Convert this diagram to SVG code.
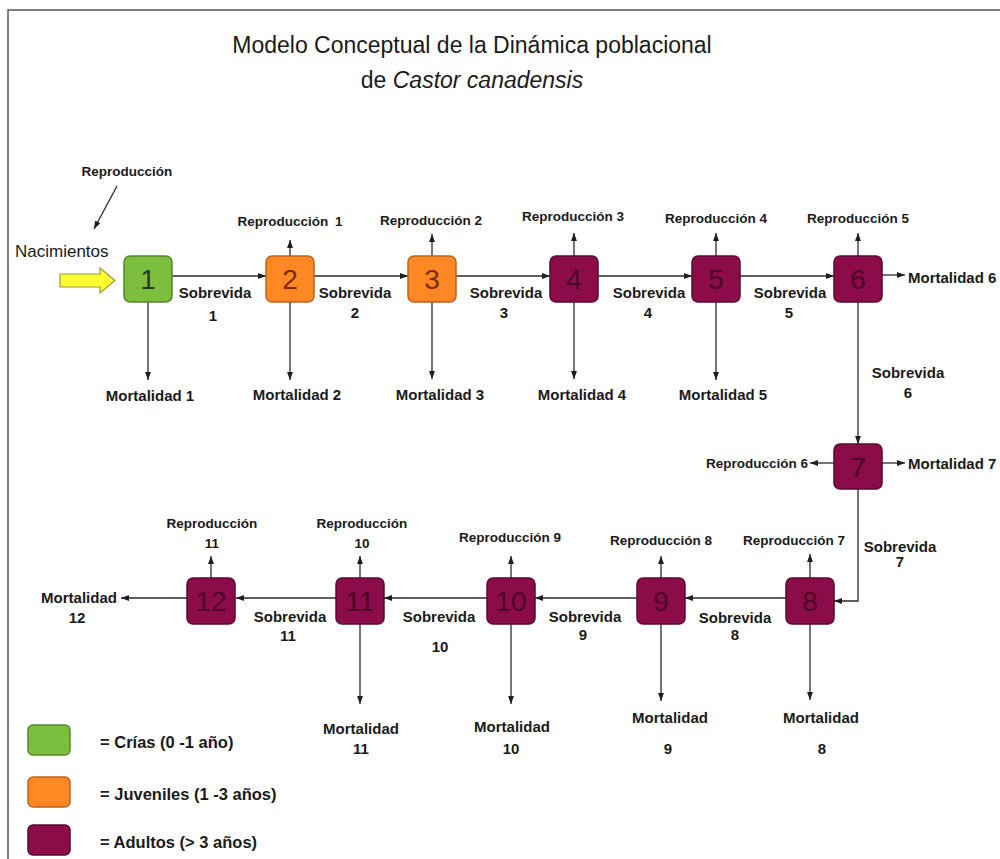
<svg xmlns="http://www.w3.org/2000/svg" width="1000" height="859" viewBox="0 0 1000 859">
<defs>
<marker id="ah" viewBox="0 0 10 10" refX="10" refY="5" markerWidth="8" markerHeight="8" markerUnits="userSpaceOnUse" orient="auto"><path d="M0,1.3 L10,5 L0,8.7 z" fill="#1e1e1e"/></marker>
<style>
.t{font-family:"Liberation Sans",Arial,sans-serif;fill:#1a1a1a}
.ti{font-size:23px}
.lb{font-weight:bold;font-size:15px}
.rp{font-weight:bold;font-size:13.5px}
.lg{font-weight:bold;font-size:16.5px}
.m{text-anchor:middle}
.e{text-anchor:end}
.num{font-family:"Liberation Sans",Arial,sans-serif;font-size:28px;text-anchor:middle}
.g{fill:#7cbf3f;stroke:#55862b;stroke-width:1.5}
.o{fill:#ff8724;stroke:#c0621a;stroke-width:1.5}
.a{fill:#8c0c4a;stroke:#5a0a30;stroke-width:1.5}
.cn{fill:none;stroke:#2a2a2a;stroke-width:1.3}
.cn path,.cn line{marker-end:url(#ah)}
</style>
</defs>
<rect width="1000" height="859" fill="#ffffff"/>
<path d="M8,859 V10 H1000" fill="none" stroke="#555" stroke-width="1.5"/>

<g id="title">
<text class="t ti m" x="472" y="53">Modelo Conceptual de la Dinámica poblacional</text>
<text class="t ti m" x="472" y="88">de <tspan font-style="italic">Castor canadensis</tspan></text>
</g>

<g id="connectors" class="cn">
<line x1="117" y1="186" x2="94" y2="229"/>
<line x1="172" y1="276" x2="266" y2="276"/>
<line x1="314" y1="276" x2="408" y2="276"/>
<line x1="456" y1="276" x2="550" y2="276"/>
<line x1="598" y1="276" x2="692" y2="276"/>
<line x1="740" y1="276" x2="834" y2="276"/>
<line x1="290" y1="256" x2="290" y2="240"/>
<line x1="432" y1="256" x2="432" y2="234"/>
<line x1="574" y1="256" x2="574" y2="233"/>
<line x1="716" y1="256" x2="716" y2="233"/>
<line x1="858" y1="256" x2="858" y2="233"/>
<line x1="148" y1="302" x2="148" y2="380"/>
<line x1="290" y1="302" x2="290" y2="380"/>
<line x1="432" y1="302" x2="432" y2="379"/>
<line x1="574" y1="302" x2="574" y2="379"/>
<line x1="716" y1="302" x2="716" y2="380"/>
<line x1="882" y1="275" x2="905" y2="275"/>
<line x1="858" y1="302" x2="858" y2="444"/>
<line x1="834" y1="463" x2="810" y2="463"/>
<line x1="882" y1="463" x2="905" y2="463"/>
<path d="M858,489 V601 H834"/>
<line x1="786" y1="598" x2="685" y2="598"/>
<line x1="637" y1="598" x2="535" y2="598"/>
<line x1="487" y1="598" x2="384" y2="598"/>
<line x1="336" y1="598" x2="236" y2="598"/>
<line x1="187" y1="598" x2="121" y2="598"/>
<line x1="810" y1="578" x2="810" y2="554"/>
<line x1="661" y1="578" x2="661" y2="556"/>
<line x1="511" y1="578" x2="511" y2="556"/>
<line x1="360" y1="578" x2="360" y2="556"/>
<line x1="211" y1="578" x2="211" y2="556"/>
<line x1="810" y1="624" x2="810" y2="700"/>
<line x1="661" y1="624" x2="661" y2="701"/>
<line x1="511" y1="624" x2="511" y2="704"/>
<line x1="360" y1="624" x2="360" y2="704"/>
</g>

<g id="births">
<text class="t rp m" x="127" y="176">Reproducción</text>
<text class="t" x="15" y="257" font-size="17">Nacimientos</text>
<path d="M60,274 H100 V268 L115,280.5 L100,293 V287 H60 Z" fill="#ffff33" stroke="#9a9a3a" stroke-width="1.2"/>
</g>

<g id="n1"><rect class="g" x="124" y="256" width="48" height="46" rx="6"/><text class="num" x="148" y="289" fill="#2a3a1a">1</text></g>
<g id="n2"><rect class="o" x="266" y="256" width="48" height="46" rx="6"/><text class="num" x="290" y="289" fill="#7a2a05">2</text></g>
<g id="n3"><rect class="o" x="408" y="256" width="48" height="46" rx="6"/><text class="num" x="432" y="289" fill="#7a2a05">3</text></g>
<g id="n4"><rect class="a" x="550" y="256" width="48" height="46" rx="6"/><text class="num" x="574" y="289" fill="#4a0624">4</text></g>
<g id="n5"><rect class="a" x="692" y="256" width="48" height="46" rx="6"/><text class="num" x="716" y="289" fill="#4a0624">5</text></g>
<g id="n6"><rect class="a" x="834" y="256" width="48" height="46" rx="6"/><text class="num" x="858" y="289" fill="#4a0624">6</text></g>
<g id="n7"><rect class="a" x="834" y="444" width="48" height="45" rx="6"/><text class="num" x="858" y="477" fill="#4a0624">7</text></g>
<g id="n8"><rect class="a" x="786" y="578" width="48" height="46" rx="6"/><text class="num" x="810" y="611" fill="#4a0624">8</text></g>
<g id="n9"><rect class="a" x="637" y="578" width="48" height="46" rx="6"/><text class="num" x="661" y="611" fill="#4a0624">9</text></g>
<g id="n10"><rect class="a" x="487" y="578" width="48" height="46" rx="6"/><text class="num" x="511" y="611" fill="#4a0624">10</text></g>
<g id="n11"><rect class="a" x="336" y="578" width="48" height="46" rx="6"/><text class="num" x="360" y="611" fill="#4a0624">11</text></g>
<g id="n12"><rect class="a" x="187" y="578" width="48" height="46" rx="6"/><text class="num" x="211" y="611" fill="#4a0624">12</text></g>

<g id="labels">
<text class="t rp m" x="290" y="226">Reproducción <tspan dx="3">1</tspan></text>
<text class="t rp m" x="431" y="225">Reproducción 2</text>
<text class="t rp m" x="573" y="221">Reproducción 3</text>
<text class="t rp m" x="716" y="223">Reproducción 4</text>
<text class="t rp m" x="858" y="223">Reproducción 5</text>
<text class="t rp e" x="808" y="468">Reproducción 6</text>
<text class="t rp m" x="794" y="545">Reproducción 7</text>
<text class="t rp m" x="661" y="545">Reproducción 8</text>
<text class="t rp m" x="510" y="542">Reproducción 9</text>
<text class="t rp m" x="362" y="528">Reproducción</text><text class="t rp m" x="362" y="548">10</text>
<text class="t rp m" x="212" y="528">Reproducción</text><text class="t rp m" x="212" y="548">11</text>

<text class="t lb m" x="150" y="401">Mortalidad 1</text>
<text class="t lb m" x="297" y="400">Mortalidad 2</text>
<text class="t lb m" x="440" y="400">Mortalidad 3</text>
<text class="t lb m" x="582" y="400">Mortalidad 4</text>
<text class="t lb m" x="723" y="400">Mortalidad 5</text>
<text class="t lb" x="908" y="283">Mortalidad 6</text>
<text class="t lb" x="908" y="469">Mortalidad 7</text>
<text class="t lb m" x="821" y="723">Mortalidad</text><text class="t lb m" x="822" y="754">8</text>
<text class="t lb m" x="670" y="723">Mortalidad</text><text class="t lb m" x="668" y="754">9</text>
<text class="t lb m" x="512" y="732">Mortalidad</text><text class="t lb m" x="511" y="754">10</text>
<text class="t lb m" x="361" y="734">Mortalidad</text><text class="t lb m" x="361" y="754">11</text>
<text class="t lb m" x="79" y="603">Mortalidad</text><text class="t lb m" x="77" y="623">12</text>

<text class="t lb m" x="215" y="298">Sobrevida</text><text class="t lb m" x="213" y="321">1</text>
<text class="t lb m" x="355" y="298">Sobrevida</text><text class="t lb m" x="355" y="318">2</text>
<text class="t lb m" x="506" y="298">Sobrevida</text><text class="t lb m" x="504" y="318">3</text>
<text class="t lb m" x="649" y="298">Sobrevida</text><text class="t lb m" x="648" y="318">4</text>
<text class="t lb m" x="790" y="298">Sobrevida</text><text class="t lb m" x="789" y="318">5</text>
<text class="t lb m" x="908" y="378">Sobrevida</text><text class="t lb m" x="908" y="398">6</text>
<text class="t lb m" x="900" y="552">Sobrevida</text><text class="t lb m" x="900" y="567">7</text>
<text class="t lb m" x="735" y="623">Sobrevida</text><text class="t lb m" x="735" y="640">8</text>
<text class="t lb m" x="585" y="622">Sobrevida</text><text class="t lb m" x="583" y="640">9</text>
<text class="t lb m" x="439" y="622">Sobrevida</text><text class="t lb m" x="440" y="652">10</text>
<text class="t lb m" x="290" y="622">Sobrevida</text><text class="t lb m" x="288" y="641">11</text>
</g>

<g id="legend">
<rect class="g" x="28" y="725" width="42" height="30" rx="5"/>
<rect class="o" x="28" y="777" width="42" height="30" rx="5"/>
<rect class="a" x="28" y="825" width="42" height="30" rx="5"/>
<text class="t lg" x="100" y="748">= Crías (0 -1 año)</text>
<text class="t lg" x="100" y="800">= Juveniles (1 -3 años)</text>
<text class="t lg" x="100" y="848">= Adultos (&gt; 3 años)</text>
</g>
</svg>
